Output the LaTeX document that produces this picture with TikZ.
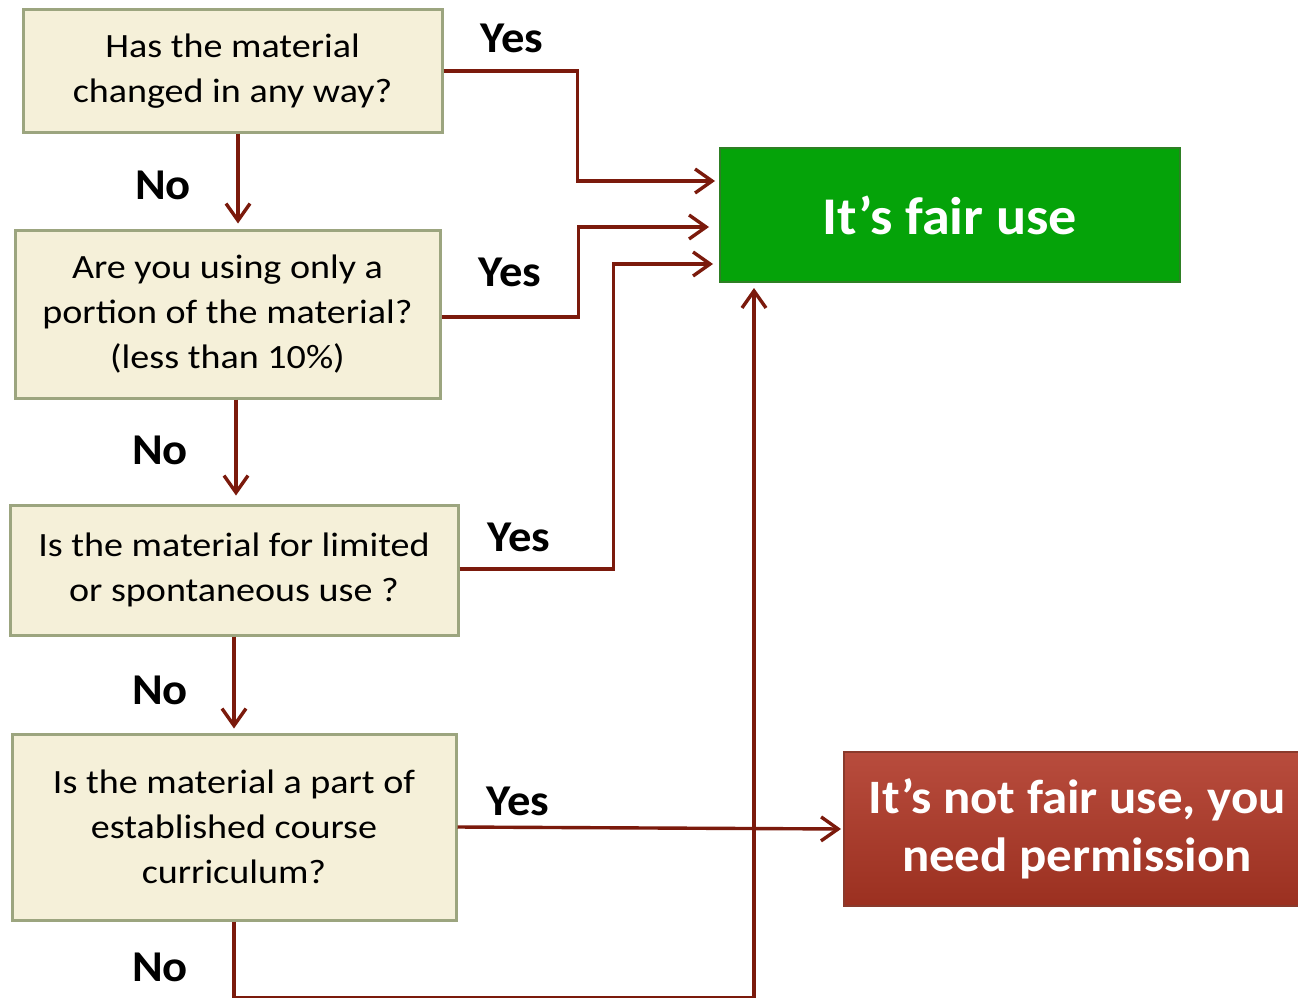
\documentclass[tikz,border=0pt]{standalone}
\usepackage{fontspec}
\setmainfont{Carlito}
\newfontfamily\boxfont[FakeStretch=1.12]{Carlito}
\newfontfamily\redfont[FakeStretch=1.06]{Carlito}
\newfontfamily\lblfont[FakeStretch=1.06]{Carlito}
\usetikzlibrary{arrows.meta}
\definecolor{lnred}{HTML}{7B1A0C}
\definecolor{qfill}{HTML}{F5F0D9}
\definecolor{qborder}{HTML}{9CA57F}
\definecolor{gfill}{HTML}{05A309}
\definecolor{gborder}{HTML}{2E7F24}
\definecolor{rtop}{HTML}{B84C3D}
\definecolor{rbot}{HTML}{9B3020}
\definecolor{rborder}{HTML}{8A3A2C}
\tikzset{
  qbox/.style={draw=qborder, fill=qfill, line width=3pt, inner sep=0pt, align=center,
    font=\boxfont\fontsize{34}{45}\selectfont},
  arr/.style={draw=lnred, line width=3.4pt,
    -{Straight Barb[length=17pt,width=24pt,line width=3.4pt]}},
  lbl/.style={font=\lblfont\fontsize{44}{50}\selectfont\bfseries},
}
\begin{document}
\begin{tikzpicture}[x=1pt,y=-1pt]
\useasboundingbox (0,0) rectangle (1298,998);
\fill[white] (0,0) rectangle (1298,998);
\node[qbox, minimum width=419, minimum height=122] (q1) at (232.5,71) {Has the material\\changed in any way?};
\node[qbox, minimum width=425, minimum height=168] (q2) at (227.5,314) {Are you using only a\\portion of the material?\\(less than 10\%)};
\node[qbox, minimum width=448, minimum height=130] (q3) at (234,570) {Is the material for limited\\or spontaneous use ?};
\node[qbox, minimum width=444, minimum height=186] (q4) at (234,827) {Is the material a part of\\established course\\curriculum?};
\node[draw=gborder, line width=2pt, fill=gfill, minimum width=460, minimum height=134, inner sep=0pt,
  text=white, font=\redfont\fontsize{53}{60}\selectfont\bfseries] (fair) at (950,215) {It’s fair use};
\node[draw=rborder, line width=2pt, top color=rtop, bottom color=rbot, minimum width=466, minimum height=154, inner sep=0pt,
  text=white, align=center, font=\redfont\fontsize{48}{58}\selectfont\bfseries] (notfair) at (1077,829) {It’s not fair use, you\\need permission};
% labels
\node[lbl] (y1) at (512,38) {Yes};
\node[lbl] (n1) at (163,185) {No};
\node[lbl] (y2) at (510,272) {Yes};
\node[lbl] (n2) at (160,450) {No};
\node[lbl] (y3) at (519,537) {Yes};
\node[lbl] (n3) at (160,690) {No};
\node[lbl] (y4) at (518,801) {Yes};
\node[lbl] (n4) at (160,967) {No};
% down arrows
\draw[arr, shorten >=5pt] ([xshift=5.5pt]q1.south) -- ([xshift=10.5pt]q2.north);
\draw[arr, shorten >=8pt] ([xshift=8.5pt]q2.south) -- ([xshift=2pt]q3.north);
\draw[arr, shorten >=4pt] (q3.south) -- (q4.north);
% yes arrows
\draw[arr, shorten >=4pt] (q1.east) -- ++(134,0) |- ([yshift=34pt]fair.west);
\draw[arr, shorten >=10pt] ([yshift=-3pt]q2.east) -- ++(137,0) |- ([yshift=-12pt]fair.west);
\draw[arr, shorten >=6pt] ([yshift=1pt]q3.east) -- ++(154,0) |- ([yshift=-49pt]fair.west);
\draw[arr, shorten >=2pt] (q4.east) -- (notfair.west);
% no from last
\draw[arr, shorten >=5pt] (q4.south) -- ++(0,76) -| ([xshift=-196pt]fair.south);
\end{tikzpicture}
\end{document}
